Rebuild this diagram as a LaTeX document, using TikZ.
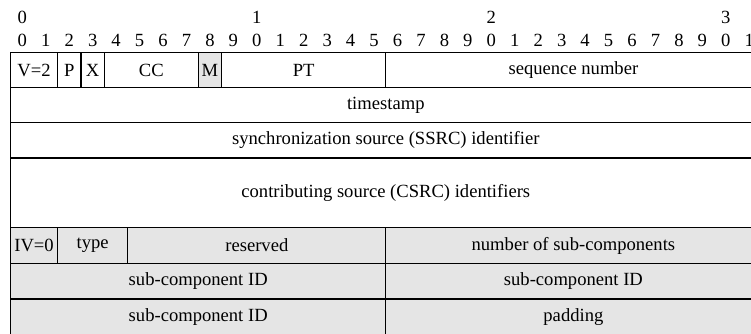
\documentclass[tikz,border=0pt]{standalone}
\usepackage{fontspec}
\setmainfont{Liberation Serif}
\definecolor{fieldgray}{RGB}{229,229,229}
% bit k starts at x = 10.6 + 23.45*k
\newcommand\bitx[1]{10.6+23.45*(#1)}
% \fieldbox{name}{first bit}{end bit}{top y}{bottom y}{extra style}{label}
\newcommand\fieldbox[7]{%
  \draw[cell,#6] ({\bitx{#2}},#4) rectangle ({\bitx{#3}},#5);
  \node[lbl] (#1) at ({\bitx{(#2+#3)/2}},{(#4+#5)/2}) {#7};}
\begin{document}
\begin{tikzpicture}[x=1pt,y=-1pt,
  font=\fontsize{18.6}{20}\selectfont,
  cell/.style={draw=black,line width=1.2pt},
  shaded/.style={fill=fieldgray},
  plain/.style={},
  lbl/.style={inner sep=0pt,anchor=center},
  digit/.style={inner sep=0pt,anchor=center}]
\useasboundingbox (0,0) rectangle (751,334);
\clip (0,0) rectangle (751,334);

% bit ruler
\foreach \k/\t in {0/0,10/1,20/2,30/3}
  \node[digit] (dec\t) at ({\bitx{\k+0.5}},17) {\t};
\foreach \k [evaluate=\k as \d using {int(mod(\k,10))}] in {0,...,31}
  \node[digit] (bit\k) at ({\bitx{\k+0.5}},40.5) {\d};

% fixed RTP header
\fieldbox{ver}{0}{2}{52.5}{87.5}{plain}{V=2}
\fieldbox{pad}{2}{3}{52.5}{87.5}{plain}{P}
\fieldbox{ext}{3}{4}{52.5}{87.5}{plain}{X}
\fieldbox{cc}{4}{8}{52.5}{87.5}{plain}{CC}
\fieldbox{mark}{8}{9}{52.5}{87.5}{shaded}{M}
\fieldbox{pt}{9}{16}{52.5}{87.5}{plain}{PT}
\fieldbox{seq}{16}{32}{52.5}{87.5}{plain}{sequence number}
\fieldbox{ts}{0}{32}{87.5}{122.7}{plain}{timestamp}
\fieldbox{ssrc}{0}{32}{122.7}{158}{plain}{synchronization source (SSRC) identifier}
\fieldbox{csrc}{0}{32}{158}{227.8}{plain}{contributing source (CSRC) identifiers}

% payload header
\fieldbox{iv}{0}{2}{227.8}{263.2}{shaded}{IV=0}
\fieldbox{type}{2}{5}{227.8}{263.2}{shaded}{type}
\fieldbox{res}{5}{16}{227.8}{263.2}{shaded}{reserved}
\fieldbox{nsub}{16}{32}{227.8}{263.2}{shaded}{number of sub-components}
\fieldbox{subA}{0}{16}{263.2}{299}{shaded}{sub-component ID}
\fieldbox{subB}{16}{32}{263.2}{299}{shaded}{sub-component ID}
\fieldbox{subC}{0}{16}{299}{335}{shaded}{sub-component ID}
\fieldbox{padd}{16}{32}{299}{335}{shaded}{padding}
\end{tikzpicture}
\end{document}
